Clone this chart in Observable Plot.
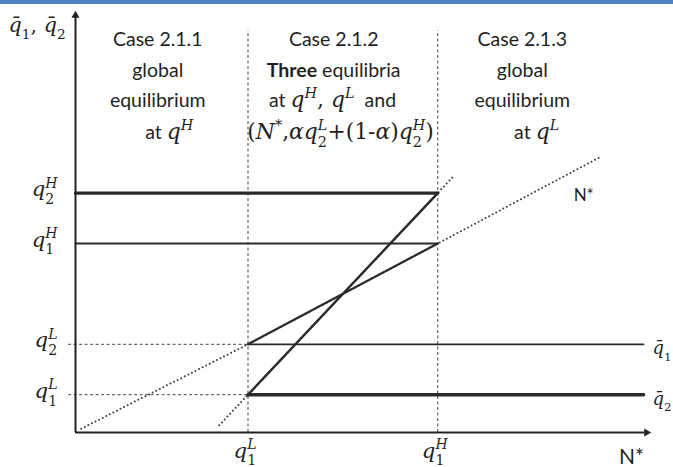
<!DOCTYPE html>
<html>
<head>
<meta charset="utf-8">
<script src="https://cdn.jsdelivr.net/npm/d3@7"></script>
<script src="https://cdn.jsdelivr.net/npm/@observablehq/plot@0.6"></script>
<style>
  html, body { margin: 0; padding: 0; background: #fff; }
  #wrap { position: relative; width: 673px; height: 467px; overflow: hidden; }
  #band { position: absolute; left: 0; top: 0; width: 673px; height: 4px; background: #4f81bd; }
  svg text { white-space: pre; }
</style>
</head>
<body>
<div id="wrap"><div id="chart"></div><div id="band"></div></div>
<script>
// Quality levels on the vertical axis (labels use $…$ for math, _ subscript, ^ superscript)
const qLevels = [
  {label: "$q_1^L$", value: 0.9},
  {label: "$q_2^L$", value: 2.1},
  {label: "$q_1^H$", value: 4.5},
  {label: "$q_2^H$", value: 5.7}
];
// Thresholds of N* on the horizontal axis
const nThresholds = [
  {label: "$q_1^L$", value: 3.0},
  {label: "$q_1^H$", value: 6.3}
];
// Reaction curves q̄1 and q̄2 as [N*, q] points: high branch, switching segment, low branch
const q1Curve = [[0, 4.5], [6.3, 4.5], [3.0, 2.1], [9.88, 2.1]];
const q2Curve = [[0, 5.7], [6.3, 5.7], [3.0, 0.9], [9.88, 0.9]];
// Dotted N* line and the dotted extension of the q̄2 switching segment
const nStarLine = [[0.1, 0.09], [3.0, 2.1], [6.3, 4.5], [9.1, 6.54]];
const q2Guide = [[2.5, 0.17], [3.0, 0.9], [6.3, 5.7], [6.56, 6.08]];
// Region notes (one entry per line of text)
const caseNotes = [
  {x: 1.43, y: 9.2,  text: "Case 2.1.1"},
  {x: 1.43, y: 8.46, text: "global"},
  {x: 1.43, y: 7.76, text: "equilibrium"},
  {x: 1.63, y: 7.0,  text: "at $q^H$"},
  {x: 4.49, y: 9.2,  text: "Case 2.1.2"},
  {x: 4.49, y: 8.46, text: "**Three** equilibria"},
  {x: 4.47, y: 7.76, text: "at $q^H, q^L$  and"},
  {x: 4.61, y: 7.0,  text: "$(N^*,αq_2^L+(1-α)q_2^H)$"},
  {x: 7.77, y: 9.2,  text: "Case 2.1.3"},
  {x: 7.77, y: 8.46, text: "global"},
  {x: 7.77, y: 7.76, text: "equilibrium"},
  {x: 8.02, y: 7.0,  text: "at $q^L$"}
];
const curveLabels = [
  {text: "$q̄_1$", value: 2.1},
  {text: "$q̄_2$", value: 0.9}
];

const INK = "#1f1f1f";
const SERIF = "DejaVu Serif";
const dotted = {stroke: "#3a3a3a", strokeWidth: 2, strokeDasharray: "0,4", strokeLinecap: "round"};
const dashed = {stroke: "#444", strokeWidth: 1, strokeDasharray: "3,2.5"};

const chart = Plot.plot({
  width: 673,
  height: 467,
  marginLeft: 75,
  marginRight: 23,
  marginTop: 12,
  marginBottom: 35,
  x: {domain: [0, 10], axis: null},
  y: {domain: [0, 10], axis: null},
  style: {background: "white", fontFamily: "Lato", color: INK},
  marks: [
    // region boundaries and level guides
    Plot.ruleX(nThresholds, {x: "value", y1: 0, y2: 9.57, ...dashed}),
    Plot.ruleY(qLevels.filter(d => d.value < 3), {y: "value", x1: -0.12, x2: 3.0, ...dashed}),
    // dotted lines
    Plot.line(nStarLine, {x: d => d[0], y: d => d[1], ...dotted}),
    Plot.line(q2Guide, {x: d => d[0], y: d => d[1], ...dotted}),
    // q̄1: thin
    Plot.line(q1Curve.slice(0, 2), {x: d => d[0], y: d => d[1], stroke: "#2a2a2a", strokeWidth: 1.8}),
    Plot.line(q1Curve.slice(1, 3), {x: d => d[0], y: d => d[1], stroke: "#2a2a2a", strokeWidth: 2.2}),
    Plot.line(q1Curve.slice(2), {x: d => d[0], y: d => d[1], stroke: "#2a2a2a", strokeWidth: 1.8}),
    // q̄2: thick
    Plot.line(q2Curve.slice(0, 2), {x: d => d[0], y: d => d[1], stroke: "#2a2a2a", strokeWidth: 3.4}),
    Plot.line(q2Curve.slice(1, 3), {x: d => d[0], y: d => d[1], stroke: "#2a2a2a", strokeWidth: 2.4}),
    Plot.line(q2Curve.slice(2), {x: d => d[0], y: d => d[1], stroke: "#2a2a2a", strokeWidth: 3.4}),
    // axes with arrow heads
    Plot.ruleX([0], {y1: 0, y2: 9.9, stroke: "#222", strokeWidth: 2}),
    Plot.ruleY([0], {x1: 0, x2: 9.9, stroke: "#222", strokeWidth: 2}),
    Plot.dot([[0, 10]], {x: d => d[0], y: d => d[1], symbol: "triangle", r: 3, fill: "#222", dy: 3}),
    Plot.dot([[10, 0]], {x: d => d[0], y: d => d[1], symbol: "triangle", r: 3, fill: "#222", rotate: 90, dx: -4}),
    // tick labels
    Plot.text(qLevels, {x: 0, y: "value", text: "label", textAnchor: "end", lineAnchor: "bottom", dx: -18, dy: 3, fontSize: 19, fill: INK}),
    Plot.text(nThresholds, {x: "value", y: 0, text: "label", lineAnchor: "bottom", dy: 25, dx: -3, fontSize: 19, fill: INK}),
    Plot.text(["$q̄_1, q̄_2$"], {x: 0, y: 10, text: d => d, textAnchor: "start", lineAnchor: "bottom", dx: -67, dy: 19, fontSize: 18.5, fill: INK}),
    Plot.text(curveLabels, {x: 9.88, y: "value", text: "text", textAnchor: "start", lineAnchor: "bottom", dx: 9, dy: 10, fontSize: 16, fill: INK}),
    Plot.text(["N*"], {x: 10, y: 0, text: d => d, lineAnchor: "bottom", dx: -19, dy: 31, fontSize: 21, fill: INK}),
    Plot.text(["N*"], {x: 9.1, y: 6.54, text: d => d, lineAnchor: "bottom", dx: -15, dy: 43, fontSize: 17, fill: INK}),
    // region notes
    Plot.text(caseNotes, {x: "x", y: "y", text: "text", lineAnchor: "bottom", fontSize: 19.5, fill: INK})
  ]
});
document.getElementById("chart").append(chart);

// Turn the small $…$ / ** markup of the labels into styled tspans
function typeset(node) {
  const src = node.textContent;
  const fs = parseFloat(getComputedStyle(node).fontSize);
  node.textContent = "";
  let rise = 0;
  const add = (str, o) => {
    const t = document.createElementNS("http://www.w3.org/2000/svg", "tspan");
    t.textContent = str;
    const r = o.rise || 0;
    if (r !== rise) { t.setAttribute("dy", (rise - r).toFixed(2)); rise = r; }
    if (o.dx) t.setAttribute("dx", o.dx.toFixed(2));
    if (o.family) t.setAttribute("font-family", o.family);
    if (o.italic) t.setAttribute("font-style", "italic");
    if (o.bold) t.setAttribute("font-weight", "bold");
    if (o.size) t.setAttribute("font-size", o.size.toFixed(2));
    node.appendChild(t);
    return t;
  };
  src.split("$").forEach((part, i) => {
    if (!part) return;
    if (i % 2 === 0) {
      part.split("**").forEach((seg, j) => { if (seg) add(seg, {bold: j % 2 === 1, rise: 0}); });
      return;
    }
    let k = 0, last = null;
    const grab = () => {
      let c = part[k++];
      while (k < part.length && /[\u0300-\u036f]/.test(part[k])) c += part[k++];
      return c;
    };
    while (k < part.length) {
      let c = grab(), kind = "base";
      if (c === "_" || c === "^") { kind = c === "_" ? "sub" : "sup"; c = grab(); }
      const o = {
        family: SERIF,
        italic: /[A-Za-z\u03b1-\u03c9]/.test(c[0]),
        size: kind === "base" ? fs * 1.12 : fs * 0.74,
        rise: kind === "sub" ? -0.42 * fs : kind === "sup" ? 0.44 * fs : 0
      };
      if (kind === "sup" && last && last.kind === "sub") o.dx = -last.el.getComputedTextLength();
      last = {kind, el: add(c, o)};
    }
  });
}
d3.select(chart).selectAll("text").each(function () {
  if (/\$|\*\*/.test(this.textContent)) typeset(this);
});
</script>
</body>
</html>
